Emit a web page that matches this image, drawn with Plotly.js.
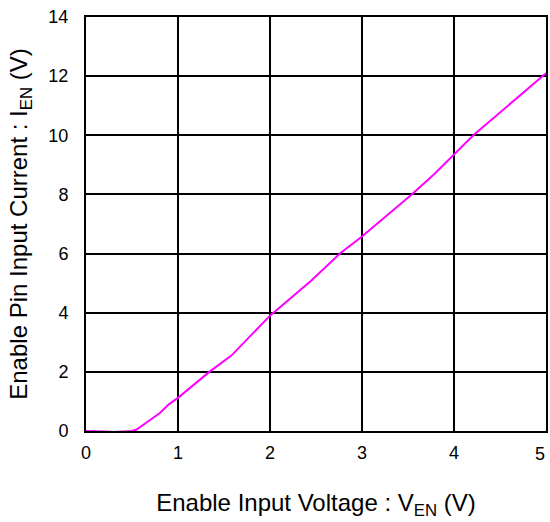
<!DOCTYPE html>
<html>
<head>
<meta charset="utf-8">
<script src="https://cdn.plot.ly/plotly-3.0.1.min.js"></script>
<style>html,body{margin:0;padding:0;background:#fff;}#chart{width:550px;height:522px;}</style>
</head>
<body>
<div id="chart"></div>
<script>
const enableVoltage = [0, 0.1, 0.2, 0.3, 0.4, 0.5, 0.55, 0.6, 0.65, 0.7, 0.8, 0.9, 1.0, 1.34, 1.58, 2.0, 2.45, 2.76, 3.0, 3.54, 3.79, 4.0, 4.21, 5.0];
const enableCurrent = [0, 0, -0.02, -0.03, -0.02, 0, 0.05, 0.15, 0.28, 0.38, 0.6, 0.9, 1.12, 2.0, 2.55, 3.9, 5.09, 6.0, 6.58, 8.0, 8.7, 9.35, 10.0, 12.1];
const xTicks = [0, 1, 2, 3, 4, 5];
const yTicks = [0, 2, 4, 6, 8, 10, 12, 14];

const fam = 'Liberation Sans, Arial, sans-serif';
const lastX = xTicks[xTicks.length - 1];
// last x label is right-aligned to the plot edge (as in the reference), drawn as an annotation
const xTickText = xTicks.map(v => v === lastX ? '' : String(v));

Plotly.newPlot('chart', [{
  x: enableVoltage, y: enableCurrent, mode: 'lines',
  line: {color: '#ff00ff', width: 2}, hoverinfo: 'skip'
}], {
  width: 550, height: 522,
  margin: {l: 86, r: 4, t: 17, b: 91},
  paper_bgcolor: '#fff', plot_bgcolor: '#fff',
  showlegend: false,
  font: {family: fam, color: '#000'},
  annotations: [{
    x: lastX, xref: 'x', y: 0, yref: 'paper', xanchor: 'right', yanchor: 'top',
    text: String(lastX), showarrow: false, xshift: 1, yshift: -11,
    font: {size: 18, family: fam, color: '#000'}
  }],
  xaxis: {
    range: [0, 5], tickvals: xTicks, ticktext: xTickText,
    showgrid: true, gridcolor: '#000', gridwidth: 2,
    showline: true, linecolor: '#000', linewidth: 2, mirror: true,
    zeroline: false, ticks: 'outside', ticklen: 4, tickcolor: 'rgba(0,0,0,0)',
    tickfont: {size: 18, family: fam, color: '#000'},
    title: {text: '\u00a0Enable Input Voltage : V<sub>EN</sub> (V)', font: {size: 24, family: fam, color: '#000'}, standoff: 33}
  },
  yaxis: {
    range: [0, 14], tickvals: yTicks, ticktext: yTicks.map(String),
    showgrid: true, gridcolor: '#000', gridwidth: 2,
    showline: true, linecolor: '#000', linewidth: 2, mirror: true,
    zeroline: false, ticks: 'outside', ticklen: 12, tickcolor: 'rgba(0,0,0,0)',
    ticklabeloverflow: 'allow',
    tickfont: {size: 18, family: fam, color: '#000'},
    title: {text: 'Enable Pin Input Current : I<sub>EN</sub> (V)', font: {size: 24, family: fam, color: '#000'}, standoff: 14}
  }
}, {staticPlot: true, displayModeBar: false});
</script>
</body>
</html>
